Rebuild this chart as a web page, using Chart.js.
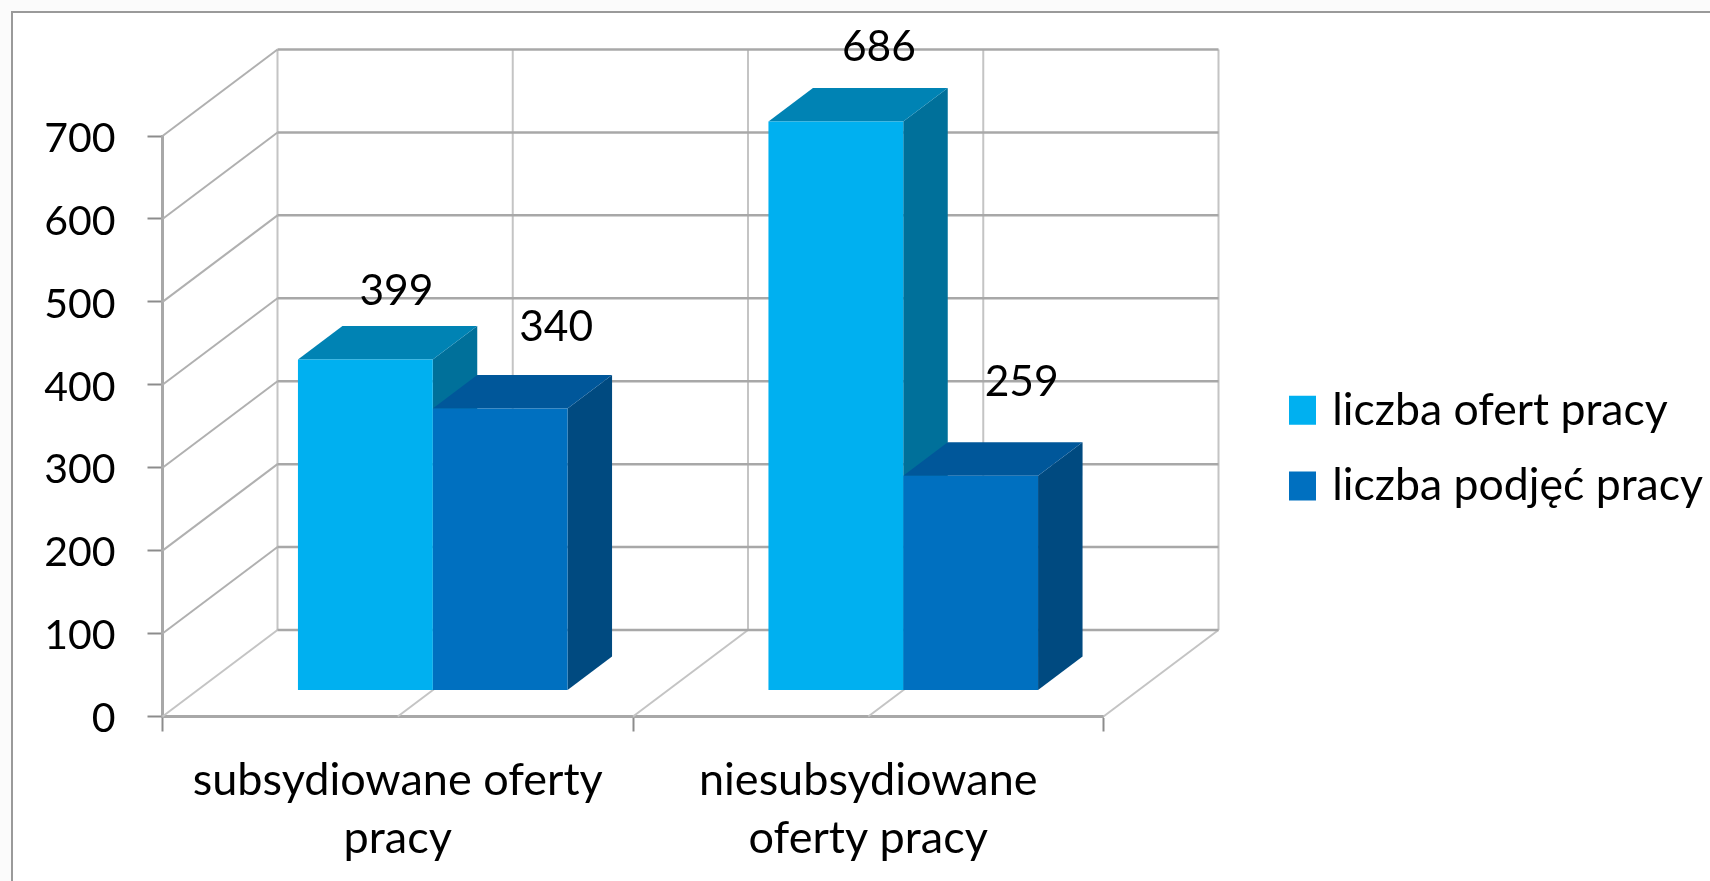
<!DOCTYPE html>
<html lang="pl">
<head>
<meta charset="utf-8">
<title>Oferty pracy</title>
<script src="https://cdn.jsdelivr.net/npm/chart.js@4"></script>
<style>
  html, body { margin: 0; padding: 0; background: #fbfbfb; overflow: hidden; }
  #frame { position: absolute; left: 11px; top: 11px; width: 1699px; height: 870px; background: #fff; border-left: 2px solid #9a9a9a; border-top: 2px solid #9a9a9a; box-sizing: border-box; }
  canvas { position: absolute; left: 0; top: 0; filter: blur(0.6px); }
</style>
</head>
<body>
<div id="frame"></div>
<canvas id="chart" width="1710" height="881"></canvas>
<script>
const categories = [['subsydiowane oferty', 'pracy'], ['niesubsydiowane', 'oferty pracy']];
const seriesNames = ['liczba ofert pracy', 'liczba podjęć pracy'];
const ofertyPracy = [399, 686];
const podjeciaPracy = [340, 259];
const yTicks = [0, 100, 200, 300, 400, 500, 600, 700];

// label placement was done by hand in the original, so keep it per point
const labelShift = [[[31, -68], [43, -74]], [[56, -81], [51, -93]]];

const wall = { dx: 115, dy: -86.5 };     // depth of the whole floor
const barShift = { dx: 35, dy: -26 };    // bars stand this far behind the front axis
const barDepth = { dx: 44.5, dy: -33.5 };

const fronts = ['#00B0F0', '#0070C0'];
const tops = ['#0083B4', '#00579A'];
const sides = ['#00709A', '#004A80'];
const FONT = 'Lato';

function line(ctx, x1, y1, x2, y2, color, width) {
  ctx.beginPath();
  ctx.moveTo(x1, y1);
  ctx.lineTo(x2, y2);
  ctx.strokeStyle = color;
  ctx.lineWidth = width;
  ctx.stroke();
}

function poly(ctx, points, color) {
  ctx.beginPath();
  points.forEach((p, i) => i ? ctx.lineTo(p[0], p[1]) : ctx.moveTo(p[0], p[1]));
  ctx.closePath();
  ctx.fillStyle = color;
  ctx.fill();
}

function drawWalls(chart) {
  const ctx = chart.ctx;
  const { y } = chart.scales;
  const left = chart.chartArea.left, right = chart.chartArea.right;
  const bottom = y.getPixelForValue(0);
  const top = y.getPixelForValue(yTicks[yTicks.length - 1]);

  // vertical lines on the back wall and diagonals on the floor, every half category
  const step = (right - left) / (categories.length * 2);
  for (let i = 0; i <= categories.length * 2; i++) {
    const px = left + i * step;
    line(ctx, px + wall.dx, bottom + wall.dy, px + wall.dx, top + wall.dy, '#c4c4c4', 2);
    line(ctx, px, bottom, px + wall.dx, bottom + wall.dy, '#c4c4c4', 2);
  }
  // horizontal lines on the back wall and diagonals on the left wall
  yTicks.forEach((v) => {
    const py = y.getPixelForValue(v);
    line(ctx, left + wall.dx, py + wall.dy, right + wall.dx, py + wall.dy, '#a8a8a8', 2.5);
    if (v > 0) line(ctx, left, py, left + wall.dx, py + wall.dy, '#b0b0b0', 2);
  });
}

function drawBarSides(chart) {
  const ctx = chart.ctx;
  chart.data.datasets.forEach((ds, d) => {
    chart.getDatasetMeta(d).data.forEach((bar) => {
      const r = bar.x + bar.width / 2, l = bar.x - bar.width / 2;
      const dx = barDepth.dx, dy = barDepth.dy;
      poly(ctx, [[r, bar.y], [r + dx, bar.y + dy], [r + dx, bar.base + dy], [r, bar.base]], sides[d]);
      poly(ctx, [[l, bar.y], [l + dx, bar.y + dy], [r + dx, bar.y + dy], [r, bar.y]], tops[d]);
    });
  });
}

const depthPlugin = {
  id: 'depth',
  afterLayout(chart) {
    // legend stands clear of the plot, not glued to it
    const legend = chart.legend;
    const pad = chart.options.plugins.legend.labels.padding;
    legend.left = 1295 - pad;
    legend.top = 388 - pad;
  },
  beforeDatasetsDraw(chart) {
    drawWalls(chart);
    chart.ctx.save();
    chart.ctx.translate(barShift.dx, barShift.dy);
    drawBarSides(chart);
  },
  afterDatasetsDraw(chart) {
    const ctx = chart.ctx;
    ctx.font = '42.5px ' + FONT;
    ctx.fillStyle = '#000';
    ctx.textAlign = 'center';
    ctx.textBaseline = 'middle';
    chart.data.datasets.forEach((ds, d) => {
      chart.getDatasetMeta(d).data.forEach((bar, i) => {
        ctx.fillText(ds.data[i], bar.x + labelShift[d][i][0], bar.y + labelShift[d][i][1]);
      });
    });
    ctx.restore();
  }
};

const chart = new Chart(document.getElementById('chart').getContext('2d'), {
  type: 'bar',
  data: {
    labels: categories,
    datasets: [
      { label: seriesNames[0], data: ofertyPracy, backgroundColor: fronts[0], categoryPercentage: 0.573, barPercentage: 1 },
      { label: seriesNames[1], data: podjeciaPracy, backgroundColor: fronts[1], categoryPercentage: 0.573, barPercentage: 1 }
    ]
  },
  options: {
    responsive: false,
    animation: false,
    layout: { padding: { left: 0, top: 136, right: 0, bottom: 0 } },
    scales: {
      x: {
        afterFit(s) { s.height = 164.5; },
        grid: { drawOnChartArea: false, tickLength: 15, tickColor: '#8c8c8c', tickWidth: 2 },
        border: { color: '#a8a8a8', width: 3 },
        ticks: { color: '#000', padding: 20, maxRotation: 0, font: { family: FONT, size: 45, lineHeight: 1.29 } }
      },
      y: {
        min: 0,
        max: 700,
        afterFit(s) { s.width = 162.5; },
        grid: { drawOnChartArea: false, tickLength: 15, tickColor: '#8c8c8c', tickWidth: 2 },
        border: { color: '#a8a8a8', width: 3 },
        ticks: { color: '#000', padding: 32, stepSize: 100, labelOffset: 2.5, font: { family: FONT, size: 41 } }
      }
    },
    plugins: {
      tooltip: { enabled: false },
      legend: {
        position: 'right',
        align: 'start',
        labels: {
          // small box with a thick same-colour stroke: text sits as near the swatch as in the original
          boxWidth: 15,
          boxHeight: 17,
          padding: 31,
          color: '#000',
          font: { family: FONT, size: 44.6 },
          generateLabels(c) {
            return Chart.defaults.plugins.legend.labels.generateLabels(c).map((item) => {
              item.lineWidth = 12;
              item.strokeStyle = item.fillStyle;
              return item;
            });
          }
        }
      }
    }
  },
  plugins: [depthPlugin]
});

// fixed legend box so the plot keeps its right edge whatever the text measures
const fitLegend = chart.legend.fit;
chart.legend.fit = function() {
  fitLegend.call(this);
  this.width = 606.5;
};
chart.update();
</script>
</body>
</html>
